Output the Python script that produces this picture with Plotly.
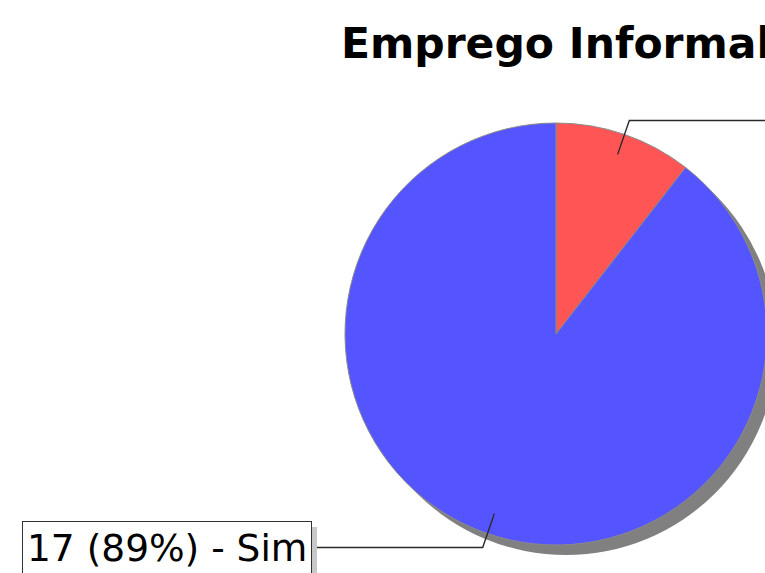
import math
import plotly.graph_objects as go

# data
labels = ["Não", "Sim"]
values = [2, 17]
colors = ["#FF5555", "#5555FF"]
title = "Emprego Informal"

# canvas (the original image is wider/taller than the window; it gets cropped)
W, H = 1112, 640
cx, cy, r = 556, 334, 211      # pie centre / radius in pixels from top-left
shadow = 10


def px(x):
    return x / W


def py(y):
    return 1 - y / H


fig = go.Figure()

# shadow
fig.add_trace(go.Pie(
    values=[sum(values)],
    marker=dict(colors=["#808080"], line=dict(width=0)),
    textinfo="none", hoverinfo="skip", showlegend=False, sort=False,
    domain=dict(x=[px(cx - r + shadow), px(cx + r + shadow)],
                y=[py(cy + r + shadow), py(cy - r + shadow)]),
))

fig.add_trace(go.Pie(
    labels=labels,
    values=values,
    marker=dict(colors=colors, line=dict(color="#8a8a8a", width=1)),
    textinfo="none", textposition="none", hoverinfo="label+value+percent",
    sort=False, direction="clockwise", rotation=0, showlegend=False,
    domain=dict(x=[px(cx - r), px(cx + r)], y=[py(cy + r), py(cy - r)]),
))

# leader lines + label boxes
total = sum(values)
cum = 0
shapes, annotations = [], []
for lab, v in zip(labels, values):
    mid = math.radians((cum + v / 2) / total * 360)
    cum += v
    s, c = math.sin(mid), math.cos(mid)
    x0, y0 = cx + 0.9 * r * s, cy - 0.9 * r * c
    x1, y1 = cx + 1.07 * r * s, cy - 1.07 * r * c
    pct = round(v / total * 100)
    txt = f"{v} ({pct}%) - {lab}"
    if s < 0:
        x2 = 312
        ax, anchor = 22, "left"
    else:
        x2 = W - 312
        ax, anchor = W - 22, "right"
    shapes.append(dict(
        type="path", xref="paper", yref="paper",
        path=f"M {px(x0)} {py(y0)} L {px(x1)} {py(y1)} L {px(x2)} {py(y1)}",
        line=dict(color="#2a2a2a", width=1.4),
    ))
    common = dict(text=txt, xref="paper", yref="paper", x=px(ax), y=py(y1),
                  xanchor=anchor, yanchor="middle", showarrow=False,
                  borderwidth=1, borderpad=4)
    annotations.append(dict(common, font=dict(family="DejaVu Sans", size=37.5, color="#c8c8c8"),
                            bgcolor="#c8c8c8", bordercolor="#c8c8c8", xshift=5, yshift=-6))
    annotations.append(dict(common, font=dict(family="DejaVu Sans", size=37.5, color="#000000"),
                            bgcolor="#ffffff", bordercolor="#333333"))

fig.update_layout(
    width=W, height=H,
    margin=dict(l=0, r=0, t=0, b=0),
    paper_bgcolor="#ffffff",
    plot_bgcolor="#ffffff",
    title=dict(text=f"<b>{title}</b>", x=0.5, xanchor="center",
               y=1 - 43 / H, yanchor="middle", yref="container",
               font=dict(family="DejaVu Sans", size=42.5, color="#000000")),
    shapes=shapes,
    annotations=annotations,
)

fig.write_html(
    "out.html",
    post_script="document.body.style.margin='0';"
                "document.body.style.overflow='hidden';"
                "document.documentElement.style.overflow='hidden';",
)
